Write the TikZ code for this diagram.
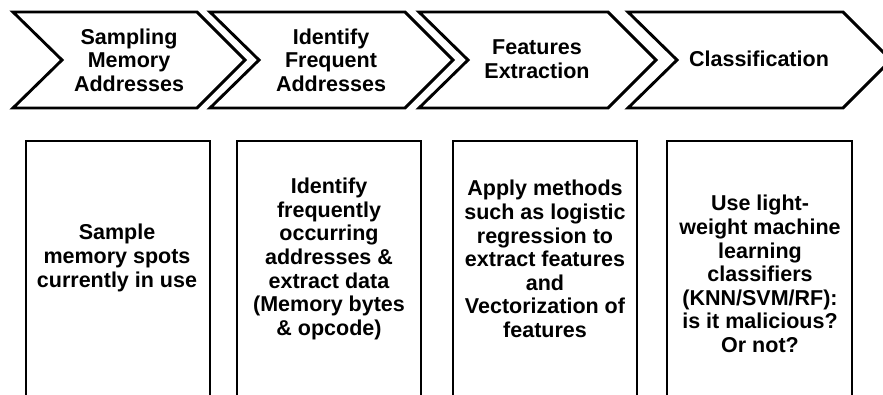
\documentclass[tikz,border=0pt]{standalone}
\usepackage{fontspec}
\setmainfont{Liberation Sans}
\begin{document}
\begin{tikzpicture}[x=1pt,y=-1pt,
  chev/.style={draw=black,line width=2.9pt,line join=miter,fill=white},
  stagebox/.style={draw=black,line width=2.9pt},
  lbl/.style={align=center,inner sep=0pt,font=\fontsize{21.5}{23.6}\selectfont\bfseries}]
\clip (0,0) rectangle (883,394);
\fill[white] (0,0) rectangle (883,394);
% chevrons
\draw[chev] (13,12) -- (197,12) -- (245,60) -- (197,108) -- (13,108) -- (62,60) -- cycle;
\draw[chev] (210,12) -- (405,12) -- (453,60) -- (405,108) -- (210,108) -- (259,60) -- cycle;
\draw[chev] (419,12) -- (608,12) -- (656,60) -- (608,108) -- (419,108) -- (468,60) -- cycle;
\draw[chev] (628,12) -- (843,12) -- (891,60) -- (843,108) -- (628,108) -- (677,60) -- cycle;
\node[lbl] (h1) at (129,60) {Sampling\\Memory\\Addresses};
\node[lbl] (h2) at (331,60) {Identify\\Frequent\\Addresses};
\node[lbl] (h3) at (537,59) {Features\\Extraction};
\node[lbl] (h4) at (759,59) {Classification};
% boxes
\draw[stagebox] (26,400) -- (26,141) -- (210,141) -- (210,400);
\draw[stagebox] (237,400) -- (237,141) -- (421,141) -- (421,400);
\draw[stagebox] (453,400) -- (453,141) -- (637,141) -- (637,400);
\draw[stagebox] (667,400) -- (667,141) -- (852,141) -- (852,400);
\node[lbl] (b1) at (117,258) {Sample\\memory spots\\currently in use};
\node[lbl] (b2) at (329,259) {Identify\\frequently\\occurring\\addresses \&\\extract data\\(Memory bytes\\\& opcode)};
\node[lbl] (b3) at (545,259) {Apply methods\\such as logistic\\regression to\\extract features\\and\\Vectorization of\\features};
\node[lbl] (b4) at (760,274) {Use light-\\weight machine\\learning\\classifiers\\(KNN/SVM/RF):\\is it malicious?\\Or not?};
\end{tikzpicture}
\end{document}
